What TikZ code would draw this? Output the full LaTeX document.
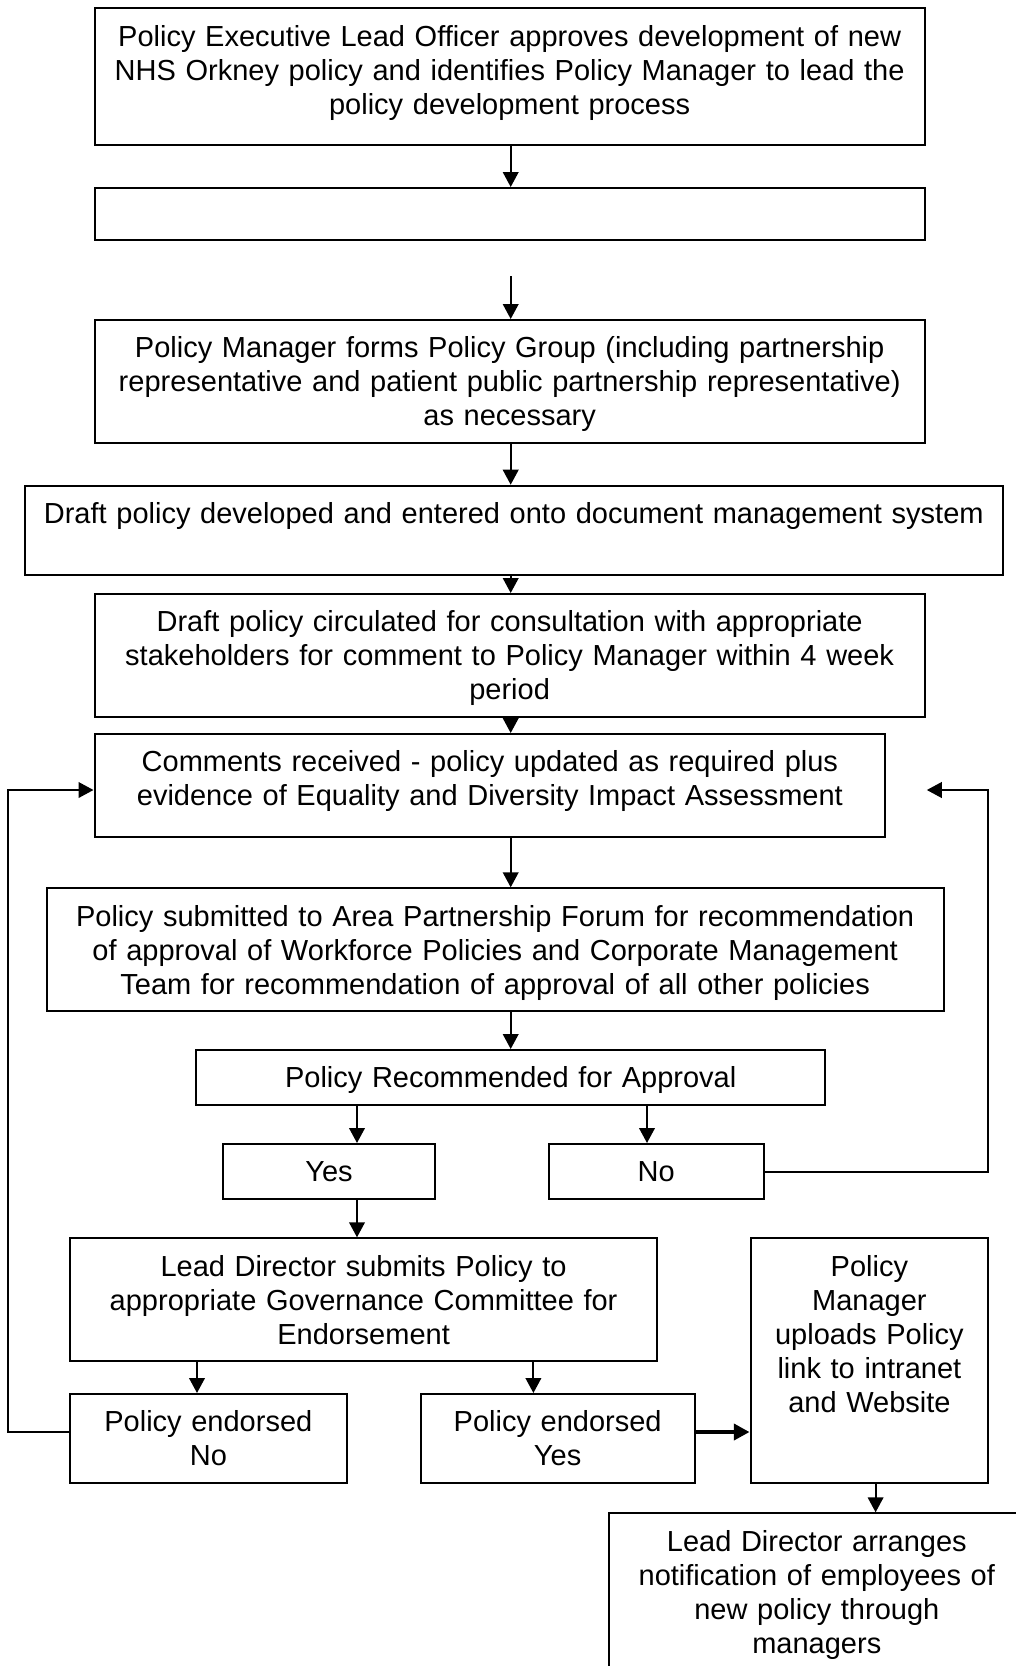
\documentclass[tikz,border=0pt]{standalone}
\usepackage{fontspec}
\setmainfont{Liberation Sans}
\usetikzlibrary{arrows.meta}

% \flowbox{name}{x1}{y1}{x2}{y2}{text}: framed box given by its corners (px),
% text set from the top with a fixed first-line baseline.
\newcommand\flowbox[6]{%
  \pgfmathsetmacro\fbw{(#4-#2)*0.5}%
  \pgfmathsetmacro\fbh{(#5-#3)*0.5}%
  \node[box, minimum width=\fbw pt, minimum height=\fbh pt]
    (#1) at ({(#2+#4)/2},{(#3+#5)/2}) {};
  \node[boxtext, text width=\fbw pt] (#1-text) at ({(#2+#4)/2},{#3+37.7}) {#6};
}

\begin{document}
\begin{tikzpicture}[x=0.5pt, y=-0.5pt,
  box/.style={draw=black, line width=1pt, inner sep=0pt, fill=white},
  boxtext/.style={inner sep=0pt, anchor=base, align=center,
    font=\fontsize{14.5pt}{17pt}\selectfont},
  flow/.style={line width=1pt, -{Triangle[length=7.5pt,width=7.8pt]}},
  heavyflow/.style={line width=1.8pt, -{Triangle[length=7.8pt,width=8pt]}}]

\useasboundingbox (0,0) rectangle (1016,1666);
\clip (0,0) rectangle (1016,1666);
\fill[white] (0,0) rectangle (1016,1666);

% guide positions for the connectors
\coordinate (sp) at (510.7,0);
\coordinate (ly) at (357,0);
\coordinate (ln) at (647,0);
\coordinate (le) at (197,0);
\coordinate (lf) at (533.4,0);
\coordinate (lp) at (875.6,0);
\coordinate (lr) at (0,1432);
\coordinate (c2) at (510.7,276);
\coordinate (lloop) at (8.4,790);
\coordinate (rloop) at (988.3,790);
\coordinate (rtip) at (926.8,790);

% boxes
\flowbox{b1}{94.5}{8.3}{924.8}{145}{Policy Executive Lead Officer approves development of new\\NHS Orkney policy and identifies Policy Manager to lead the\\policy development process}
\node[box, minimum width=415.15pt, minimum height=25.75pt] (b2) at (509.65,213.75) {};
\flowbox{b3}{94.5}{320}{924.8}{442.7}{Policy Manager forms Policy Group (including partnership\\representative and patient public partnership representative)\\as necessary}
\flowbox{b4}{24.6}{485.7}{1003}{575}{Draft policy developed and entered onto document management system}
\flowbox{b5}{94.5}{594}{924.8}{716.7}{Draft policy circulated for consultation with appropriate\\stakeholders for comment to Policy Manager within 4 week\\period}
\flowbox{b6}{94.5}{734}{885.3}{836.7}{Comments received - policy updated as required plus\\evidence of Equality and Diversity Impact Assessment}
\flowbox{b7}{46.7}{888.3}{943.6}{1011}{Policy submitted to Area Partnership Forum for recommendation\\of approval of Workforce Policies and Corporate Management\\Team for recommendation of approval of all other policies}
\flowbox{b8}{196.4}{1050}{825}{1105.3}{Policy Recommended for Approval}
\flowbox{yes}{223}{1144}{434.9}{1199.3}{Yes}
\flowbox{no}{549}{1144}{763.5}{1199.3}{No}
\flowbox{b9}{70}{1238.3}{657.2}{1360.7}{Lead Director submits Policy to\\appropriate Governance Committee for\\Endorsement}
\flowbox{pm}{750.5}{1238.3}{988.3}{1482.7}{Policy\\Manager\\uploads Policy\\link to intranet\\and Website}
\flowbox{endno}{70}{1394}{346.7}{1482.7}{Policy endorsed\\No}
\flowbox{endyes}{420.6}{1394}{694.7}{1482.7}{Policy endorsed\hspace*{12.7pt}\\Yes}
\flowbox{last}{609.2}{1513.3}{1024.4}{1720}{Lead Director arranges\\notification of employees of\\new policy through\\managers}

% main spine
\draw[flow] (b1.south -| sp) -- (b2.north -| sp);
\draw[flow] (c2) -- (b3.north -| sp);
\draw[flow] (b3.south -| sp) -- (b4.north -| sp);
\draw[flow] (b4.south -| sp) -- (b5.north -| sp);
\draw[flow] (b5.south -| sp) -- (b6.north -| sp);
\draw[flow] (b6.south -| sp) -- (b7.north -| sp);
\draw[flow] (b7.south -| sp) -- (b8.north -| sp);

% decision branches
\draw[flow] (b8.south -| ly) -- (yes.north -| ly);
\draw[flow] (b8.south -| ln) -- (no.north -| ln);
\draw[flow] (yes.south -| ly) -- (b9.north -| ly);
\draw[flow] (b9.south -| le) -- (endno.north -| le);
\draw[flow] (b9.south -| lf) -- (endyes.north -| lf);
\draw[heavyflow] (endyes.east |- lr) -- (pm.west |- lr);
\draw[flow] (pm.south -| lp) -- (last.north -| lp);

% return loops
\draw[flow] (no.east) -| (rloop) -- (rtip);
\draw[flow] (endno.west |- lr) -| (lloop) -- (b6.west |- lloop);

\end{tikzpicture}
\end{document}
